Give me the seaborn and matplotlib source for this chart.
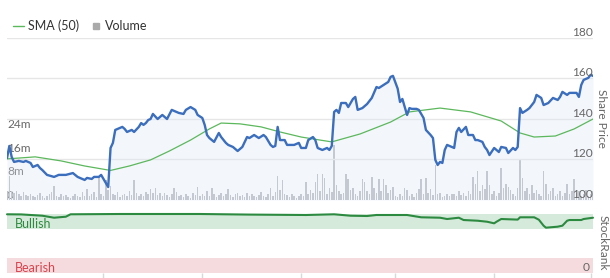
import matplotlib
matplotlib.use("Agg")
import matplotlib.pyplot as plt
import seaborn as sns
from matplotlib.lines import Line2D
from matplotlib import transforms

sns.set_theme(style="white")
plt.rcParams['font.family'] = ['Lato', 'DejaVu Sans']

# ---------------- data ----------------
price_days = [0,1,2,3,5,7,8,10,11,13,
 14,15,17,20,22,25,28,30,33,34,
 36,37,39,40,42,43,44,45,46,47,
 49,50,51,53,54,56,57,58,59,60,
 61,62,64,66,68,70,73,75,76,78,
 80,81,83,84,85,86,88,90,91,93,
 94,96,98,100,102,103,105,107,109,110,
 112,113,114,115,116,118,119,122,124,125,
 127,128,130,131,132,134,136,137,138,139,
 140,141,142,144,145,147,148,149,151,153,
 155,157,158,160,162,163,164,166,167,168,
 169,170,171,172,174,175,177,178,180,181,
 182,183,184,185,186,187,189,190,191,192,
 193,195,196,198,199,200,202,203,204,205,
 207,209,210,212,213,215,216,217,218,219,
 221,222,224,225,227,228,230,232,234,235,
 236,238,239,242,243,244,245,247,248,249]
price_vals = [120.7,126.7,121.2,118.8,119.3,118.8,119.3,118.3,116.3,117.3,
 115.8,114.8,112.4,111.4,112.4,112.4,113.3,111.4,109.9,110.9,
 110.4,111.4,111.4,112.4,108.4,106.4,125.7,128.2,134.6,135.1,
 136.1,135.1,133.6,134.6,133.6,136.1,138.0,137.1,138.0,139.5,
 140.0,142.5,140.0,142.0,140.0,144.5,143.0,142.5,144.5,145.9,
 144.5,142.0,140.5,137.1,132.1,130.6,128.7,133.1,131.1,128.2,
 127.2,126.2,124.2,126.2,131.1,130.6,132.1,130.6,132.1,131.1,
 127.2,126.2,126.7,136.1,129.6,129.6,127.2,127.2,128.2,125.7,
 125.7,129.6,131.1,129.6,125.7,124.7,125.7,124.7,126.7,143.5,
 144.5,143.0,147.9,147.9,145.9,149.9,150.9,144.5,145.4,147.4,
 150.4,155.8,155.3,156.8,158.3,160.8,161.3,155.0,148.4,149.9,
 145.9,142.0,145.4,145.0,145.0,144.5,140.5,134.6,132.1,130.6,
 119.8,117.3,118.8,118.3,124.7,127.2,126.2,125.7,133.6,135.6,
 133.6,136.1,132.1,132.1,129.6,129.6,128.7,126.2,124.7,122.2,
 125.7,123.7,126.2,125.7,123.2,125.7,124.7,126.2,145.4,143.0,
 144.5,145.4,148.4,151.9,150.4,146.9,147.9,150.4,149.4,150.9,
 153.4,151.9,152.9,152.9,150.9,156.8,159.3,160.3,161.8,161.3]

sma_days = [0,12,23,33,44,52,61,69,78,86,91,99,108,116,125,133,138,150,163,171,
            184,197,210,218,224,233,241,249]
sma_vals = [120.3,121.3,119.3,116.8,114.6,116.8,119.8,124.2,129.6,135.1,138.0,137.6,
            136.1,133.6,131.1,129.6,128.7,132.6,138.5,143.5,145.4,143.5,139.0,133.1,
            131.1,131.6,135.1,140.0]

volume_m = [3.0,8.0,3.2,2.5,3.0,2.0,1.5,2.8,1.8,1.2,
 2.2,1.5,1.0,1.8,2.5,1.2,0.8,1.5,2.0,2.6,
 4.8,1.5,1.0,2.2,1.3,1.8,0.9,0.6,1.4,2.0,
 1.2,1.0,2.6,1.5,3.7,1.2,2.0,2.8,1.0,8.0,
 2.2,1.4,6.8,3.5,4.8,2.0,1.6,2.6,1.0,1.8,
 2.2,1.5,3.0,1.8,6.8,2.4,1.2,2.0,1.4,2.8,
 2.0,3.6,2.5,4.0,1.8,2.4,1.2,2.5,1.6,1.0,
 2.0,4.0,2.6,1.4,1.7,1.0,2.2,1.5,0.8,2.5,
 1.8,4.5,1.2,2.0,1.5,3.0,1.4,4.0,2.2,1.0,
 1.6,2.5,1.2,2.0,3.6,1.8,1.0,2.2,2.3,1.3,
 1.8,1.0,2.5,1.4,2.0,1.2,0.9,1.6,2.8,1.5,
 1.0,2.2,4.0,1.5,2.6,8.0,3.5,6.8,2.0,1.6,
 1.0,2.0,1.4,0.8,1.2,2.0,1.5,6.0,2.0,3.5,
 2.5,6.0,9.0,3.0,9.0,7.5,2.0,4.2,2.8,18.7,
 5.0,3.0,2.0,2.5,9.0,7.0,3.5,4.0,2.0,1.5,
 3.0,7.0,6.0,3.2,2.0,7.7,4.0,2.5,7.0,3.0,
 7.0,5.0,2.5,3.5,4.5,1.5,1.0,2.0,1.2,4.0,
 3.4,1.5,2.0,1.0,2.5,3.8,7.0,2.0,7.4,2.5,
 3.7,1.8,12.0,2.2,2.5,1.0,1.5,2.0,1.2,2.0,
 2.0,1.5,3.0,1.8,2.5,1.2,3.0,2.2,7.8,5.5,
 10.0,3.0,5.0,3.7,10.0,5.0,2.0,3.0,1.5,2.5,
 11.0,4.0,5.5,4.5,3.5,2.0,1.5,4.0,13.6,7.4,
 3.0,4.0,2.0,5.0,2.5,3.5,2.0,1.5,10.0,5.5,
 2.0,3.0,4.0,1.5,2.0,3.0,1.2,2.5,5.5,2.0,
 3.0,7.0,2.5,3.0,1.5,2.0,3.5,1.2,2.0,3.0]
volume_days = list(range(len(volume_m)))

rank_days = [0,6,15,20,25,27,48,82,103,127,139,146,153,157,170,176,184,187,192,194,
             200,204,207,208,210,217,218,224,226,228,229,234,236,238,239,244,245,249]
rank_vals = [99.5,99.3,97.1,93.7,95.4,99.5,100,100,99.0,98.3,99.5,97.1,96.6,98.3,98.3,
             94.4,93.7,91.5,93.7,89.8,88.6,86.9,84.2,86.9,91.5,90.5,94.4,94.4,90.3,80.2,
             76.8,78.5,80.2,88.6,89.8,89.8,91.5,93.7]

price_ticks = [100, 120, 140, 160, 180]
volume_ticks = [0, 8, 16, 24]
volume_tick_labels = ["0", "8m", "16m", "24m"]
month_ticks = [41, 83, 125, 165, 207, 248]
rank_zones = {"Bullish": (75, 100), "Bearish": (0, 25)}

# ---------------- colours ----------------
C_PRICE = "#3b6ebd"
C_SMA = "#5cb85c"
C_VOL = "#b6b9be"
C_RANK = "#2c8a40"
C_BULL_BG = "#d6eadb"
C_BEAR_BG = "#f6dbde"
C_BULL_TX = "#2e8b3e"
C_BEAR_TX = "#d8434d"
C_LABEL = "#666666"
C_GRID = "#e6e6e6"

W, H = 610, 278
fig = plt.figure(figsize=(W / 100, H / 100), dpi=100)

x0, x1 = 7, 593
ax_v = fig.add_axes([x0 / W, 1 - 200 / H, (x1 - x0) / W, 162 / H])
ax_p = ax_v.twinx()
ax_r = fig.add_axes([x0 / W, 1 - 273 / H, (x1 - x0) / W, 59 / H])

# volume bars
ax_v.bar(volume_days, volume_m, width=0.65, color=C_VOL, linewidth=0, zorder=2)
ax_v.set_xlim(0, 249)
ax_v.set_ylim(0, 55.1)

# price panel
ax_p.set_xlim(0, 249)
ax_p.set_ylim(100, 180)
for v in price_ticks[1:]:
    ax_p.axhline(v, color=C_GRID, lw=1, zorder=0)
ax_p.fill_between(price_days, price_vals, 100, color="#dfe7f5", alpha=0.35, lw=0, zorder=1)
sns.lineplot(x=sma_days, y=sma_vals, ax=ax_p, color=C_SMA, linewidth=0.9,
             estimator=None, sort=False, zorder=3)
sns.lineplot(x=price_days, y=price_vals, ax=ax_p, color=C_PRICE, linewidth=1.7,
             estimator=None, sort=False, zorder=4)

for a in (ax_v, ax_p):
    a.set_xticks([])
    a.set_yticks([])
    a.set_xlabel("")
    a.set_ylabel("")
    for s in a.spines.values():
        s.set_visible(False)
    a.patch.set_visible(False)

# tick labels as text
tr_p = transforms.offset_copy(ax_p.get_yaxis_transform(), fig=fig, y=2, units="dots")
for v in price_ticks:
    ax_p.text(1.0, v, str(v), transform=tr_p, ha="right", va="baseline",
              fontsize=8.6, color=C_LABEL, zorder=6)
tr_v = transforms.offset_copy(ax_v.get_yaxis_transform(), fig=fig, y=1, units="dots")
for v, lab in zip(volume_ticks, volume_tick_labels):
    ax_v.text(0.0, v, lab, transform=tr_v, ha="left", va="baseline",
              fontsize=8.6, color=C_LABEL, zorder=1)

fig.text(601 / W, 1 - 118 / H, "Share Price", rotation=270, ha="center", va="center",
         fontsize=8.6, color=C_LABEL)

# legend
handles = [Line2D([0], [0], color=C_SMA, lw=1),
           Line2D([0], [0], marker="s", color="#aaaaaa", ls="", markersize=4)]
fig.legend(handles, ["SMA (50)", "Volume"], loc="center left",
           bbox_to_anchor=(13 / W, 1 - 26 / H), frameon=False, ncol=2,
           handlelength=0.85, handletextpad=0.35, columnspacing=0.9,
           borderpad=0, borderaxespad=0, fontsize=9, labelcolor="#333333")

# StockRank panel
ax_r.set_xlim(0, 249)
ax_r.set_ylim(0, 100)
lo, hi = rank_zones["Bullish"]
ax_r.axhspan(lo, hi, color=C_BULL_BG, lw=0, zorder=0)
lo, hi = rank_zones["Bearish"]
ax_r.axhspan(lo, hi, color=C_BEAR_BG, lw=0, zorder=0)
sns.lineplot(x=rank_days, y=rank_vals, ax=ax_r, color=C_RANK, linewidth=1.5,
             estimator=None, sort=False, zorder=3, clip_on=False)
ax_r.set_xlabel("")
ax_r.set_ylabel("")
ax_r.set_yticks([])
ax_r.set_xticks(month_ticks)
ax_r.tick_params(axis="x", length=4, width=1, color="#d9d9d9", direction="out",
                 labelbottom=False, bottom=True)
for s in ax_r.spines.values():
    s.set_visible(False)
ax_r.patch.set_visible(False)

ax_r.text(0.014, 76.5, "Bullish", transform=ax_r.get_yaxis_transform(), ha="left",
          va="baseline", fontsize=9, color=C_BULL_TX)
ax_r.text(0.014, 2.0, "Bearish", transform=ax_r.get_yaxis_transform(), ha="left",
          va="baseline", fontsize=9, color=C_BEAR_TX)
ax_r.text(0.995, 4.0, "0", transform=ax_r.get_yaxis_transform(), ha="right",
          va="baseline", fontsize=8.6, color=C_LABEL)
fig.text(603 / W, 1 - 243 / H, "StockRank", rotation=270, ha="center", va="center",
         fontsize=8.6, color=C_LABEL)

fig.savefig("out.png", dpi=100)
